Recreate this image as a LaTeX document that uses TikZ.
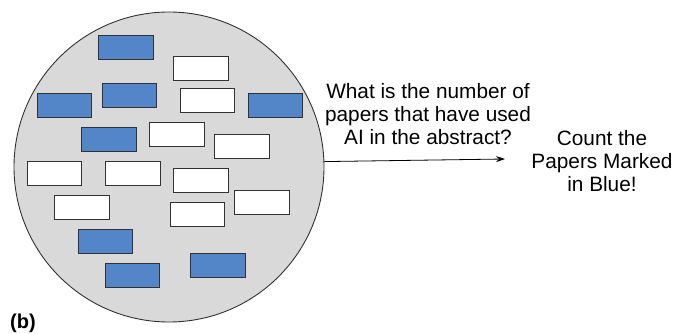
\documentclass[tikz,border=0pt]{standalone}
\usepackage{fontspec}
\setmainfont{Liberation Sans}
\usetikzlibrary{arrows.meta}
\definecolor{discgray}{RGB}{217,217,217}
\definecolor{paperblue}{RGB}{82,134,200}
\definecolor{edgegray}{RGB}{50,50,50}
\begin{document}
\begin{tikzpicture}[x=1pt,y=-1pt,
  paper/.style={draw=edgegray,line width=0.9pt,minimum width=54.5pt,minimum height=24pt,inner sep=0pt},
  bluepaper/.style={paper,fill=paperblue},
  whitepaper/.style={paper,fill=white},
  label/.style={font=\fontsize{20.8}{23}\selectfont,align=center,inner sep=0pt}]
\useasboundingbox (0,0) rectangle (689,334);
\node[circle,draw=edgegray,line width=0.9pt,fill=discgray,minimum size=310pt,inner sep=0pt] (disc) at (169,167) {};
% blue papers
\node[bluepaper] (b1) at (125.8,47.8) {};
\node[bluepaper] (b2) at (129.5,95.5) {};
\node[bluepaper] (b3) at (64.5,105.7) {};
\node[bluepaper] (b4) at (275.5,105.7) {};
\node[bluepaper] (b5) at (108.8,139.5) {};
\node[bluepaper] (b6) at (105.5,241.5) {};
\node[bluepaper] (b7) at (132.5,275.5) {};
\node[bluepaper] (b8) at (218,265.7) {};
% white papers
\node[whitepaper] (w1) at (200.7,68.3) {};
\node[whitepaper] (w2) at (207.2,100.3) {};
\node[whitepaper] (w3) at (176.8,134.7) {};
\node[whitepaper] (w4) at (241.7,146.3) {};
\node[whitepaper] (w5) at (54.5,173.7) {};
\node[whitepaper] (w6) at (132.7,173.5) {};
\node[whitepaper] (w7) at (200.7,180.5) {};
\node[whitepaper] (w8) at (261.7,202.3) {};
\node[whitepaper] (w9) at (81.7,207.5) {};
\node[whitepaper] (w10) at (197.5,214.5) {};
% texts
\node[label] (q) at (428,114) {What is the number of\\papers that have used\\AI in the abstract?};
\node[label] (ans) at (602,161) {Count the\\Papers Marked\\in Blue!};
\node[font=\bfseries\fontsize{20}{23}\selectfont,inner sep=0pt,anchor=base west] (tag) at (10,328.5) {(b)};
% arrow
\coordinate (tip) at (505,159);
\draw[-{Stealth[length=9pt,width=6pt]},line width=0.8pt,black] (disc.2.96) -- (tip);
\end{tikzpicture}
\end{document}
